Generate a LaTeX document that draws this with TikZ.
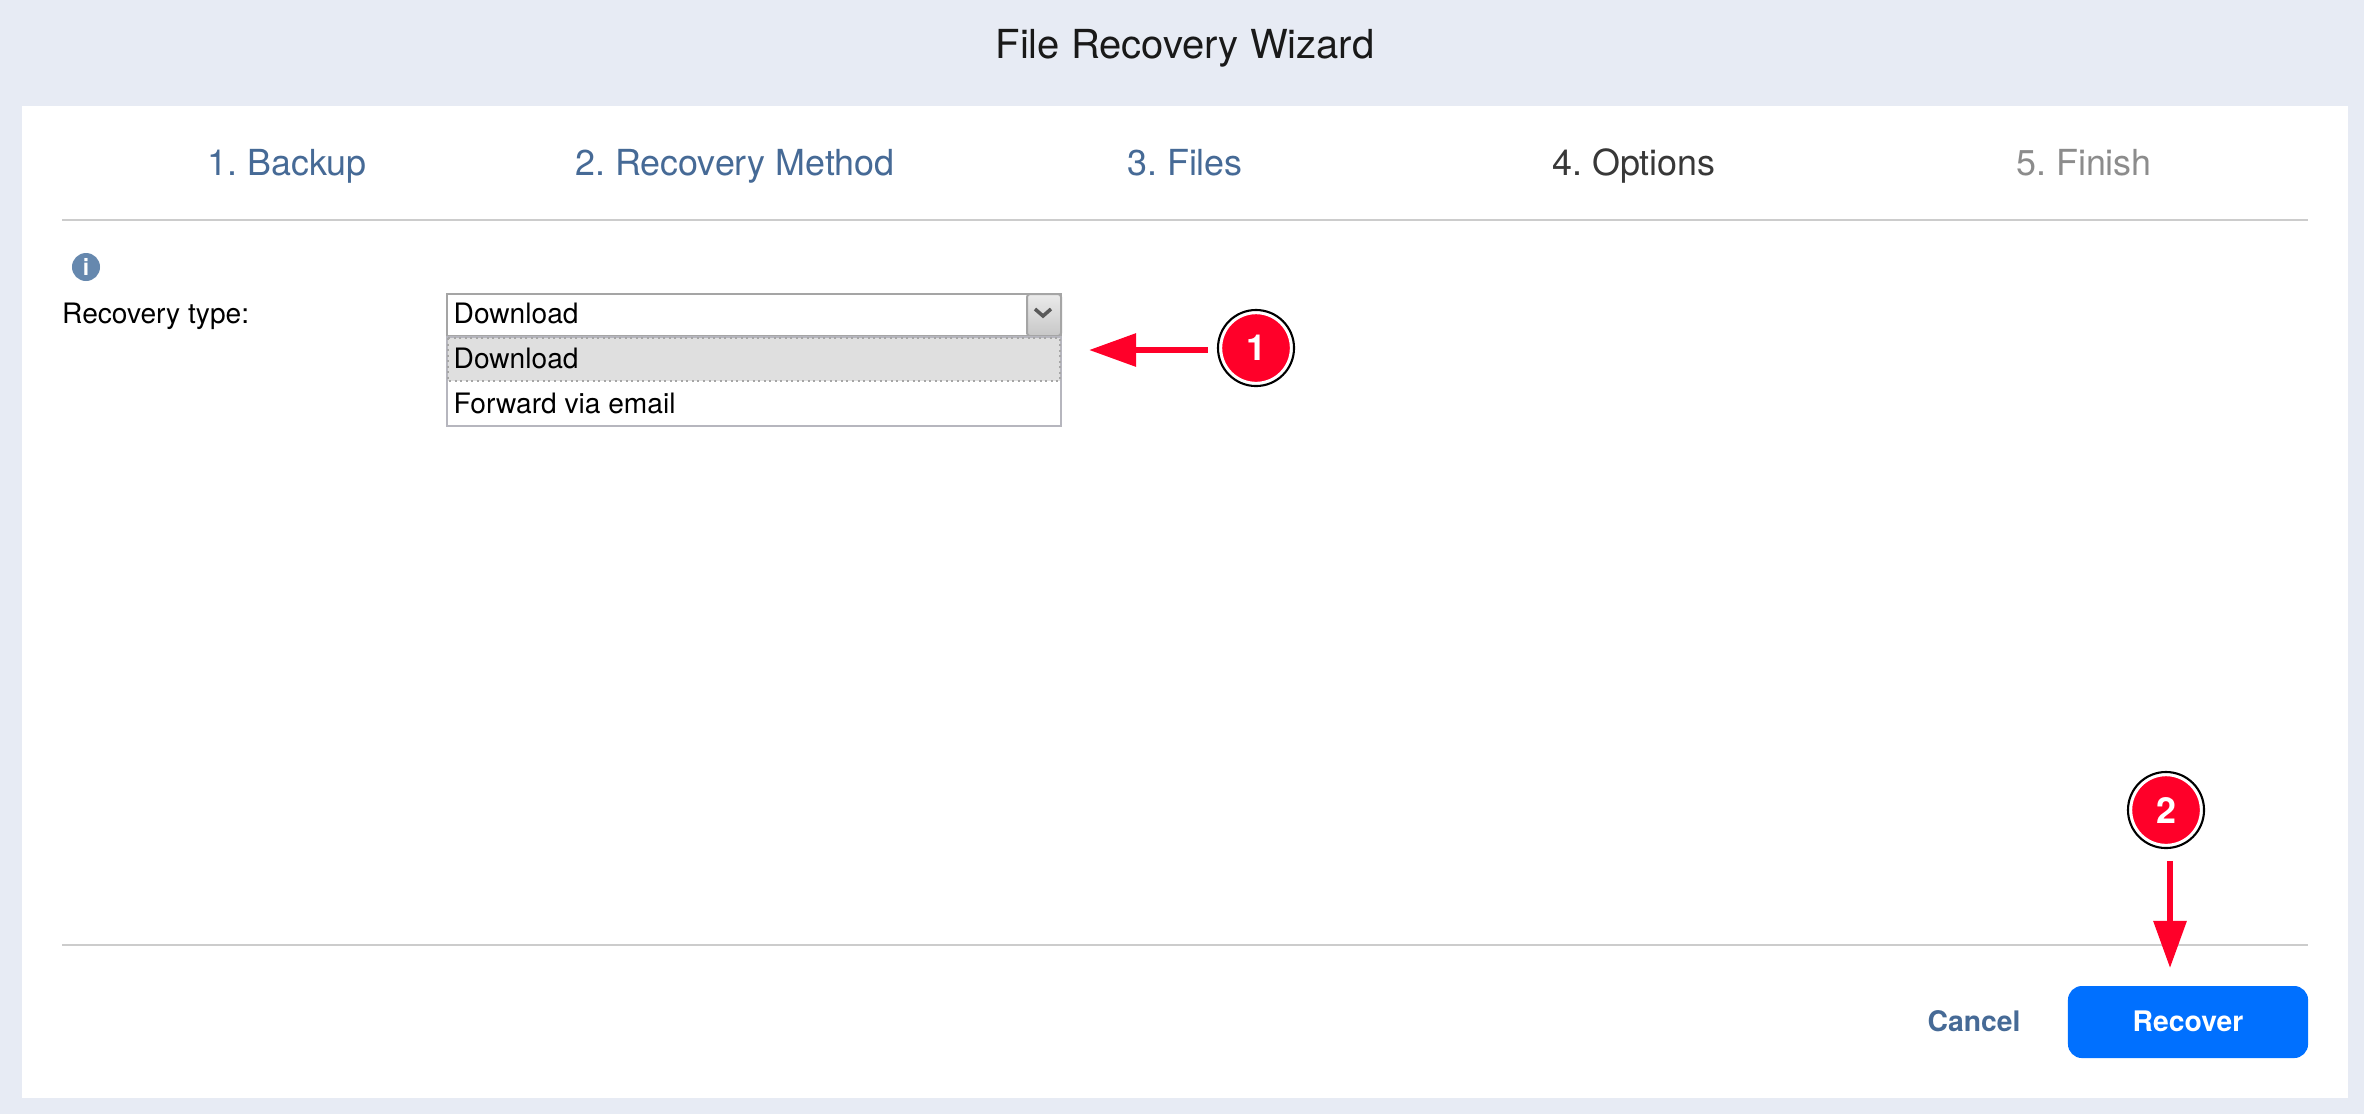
\documentclass[tikz,border=0pt]{standalone}
\usepackage{fontspec}
\usepackage{tikz}
\setmainfont{TeX Gyre Heros}
\usetikzlibrary{positioning, arrows.meta}

\definecolor{pagebg}{HTML}{E7EBF4}
\definecolor{stepblue}{HTML}{466A96}
\definecolor{rulegrey}{HTML}{CCCCCC}
\definecolor{boxgrey}{HTML}{A5A5A5}
\definecolor{listgrey}{HTML}{B6B6BE}
\definecolor{rowgrey}{HTML}{DFDFDF}
\definecolor{calloutred}{HTML}{FF0029}
\definecolor{buttonblue}{HTML}{0070FF}
\definecolor{infoblue}{HTML}{6688AE}

\tikzset{
    step_label/.style={inner sep=0, anchor=base, font=\fontsize{10.2}{12}\selectfont},
    form_label/.style={inner sep=0, anchor=base west, text=black, font=\fontsize{8}{10}\selectfont},
    action_label/.style={inner sep=0, anchor=base, font=\fontsize{8.05}{10}\selectfont\bfseries},
    badge/.style={circle, inner sep=0, minimum size=0.69cm, fill=calloutred, draw=white, line width=0.4pt,
        text=white, font=\fontsize{10.2}{12}\selectfont\bfseries},
    badge_ring/.style={circle, inner sep=0, minimum size=0.76cm, draw=black, line width=0.6pt},
    callout/.style={draw=calloutred, line width=0.06cm, -{Triangle[length=4.7mm, width=3.2mm, fill=calloutred]}},
    hairline/.style={draw=rulegrey, line width=0.02cm},
}

\begin{document}
\frenchspacing
\begin{tikzpicture}[x=0.01cm, y=-0.01cm]
            \useasboundingbox (0, 0) rectangle (2364, 1114);
            \fill[pagebg] (0, 0) rectangle (2364, 1114);
            \fill[white] (22, 106) rectangle (2348, 1098);

            \node[inner sep=0, anchor=base, text=black!90, font=\fontsize{11.37}{14}\selectfont] (title) at (1185, 58) {File Recovery Wizard};

            \node[step_label, text=stepblue] (step_backup) at (287, 175) {1. Backup};
            \node[step_label, text=stepblue] (step_method) at (735, 175) {2. Recovery Method};
            \node[step_label, text=stepblue] (step_files) at (1185, 175) {3. Files};
            \node[step_label, text=black!78] (step_options) at (1634, 175) {4. Options};
            \node[step_label, text=black!45] (step_finish) at (2084, 175) {5. Finish};

            \draw[hairline] (62, 220) -- (2308, 220);
            \draw[hairline] (62, 945) -- (2308, 945);

            \node[circle, inner sep=0, minimum size=0.28cm, fill=infoblue, text=white, font=\fontsize{6.5}{8}\selectfont\bfseries] (info) at (86, 267) {i};
            \node[form_label] (recovery_type) at (61.5, 323) {Recovery type:};

            % closed part of the drop-down
            \draw[draw=boxgrey, line width=0.02cm, fill=white] (447, 294) rectangle (1061, 336);
            \draw[draw=boxgrey, line width=0.02cm, rounded corners=0.03cm, top color=white!92!black, bottom color=black!22] (1027, 294) rectangle (1061, 336);
            \draw[draw=black!65, line width=0.035cm] (1035, 309) -- (1043, 316) -- (1051, 309);
            \node[form_label] (selected) at (453, 323) {Download};

            % opened list
            \draw[draw=listgrey, line width=0.02cm, fill=white] (447, 337) rectangle (1061, 426);
            \draw[draw=black!35, line width=0.02cm, densely dotted, fill=rowgrey] (448, 338) rectangle (1060, 381);
            \node[form_label] (opt_download) at (453, 368) {Download};
            \node[form_label] (opt_forward) at (453, 413) {Forward via email};

            \node[action_label, text=stepblue] (cancel) at (1974, 1031) {Cancel};
            \node[minimum width=2.4cm, minimum height=0.72cm, inner sep=0, rounded corners=0.14cm, fill=buttonblue] (recover_box) at (2188, 1022) {};
            \node[action_label, text=white] (recover) at (2188, 1031) {Recover};

            \node[badge_ring] (ring1) at (1256, 348) {};
            \node[badge] (badge1) at (1256, 348) {1};
            \node[badge_ring] (ring2) at (2166, 810) {};
            \node[badge] (badge2) at (2166, 810) {2};

            \coordinate (tip1) at (1089, 350);
            \coordinate (tip2) at (2170, 968);
            \draw[callout, shorten <=0.09cm] (ring1.west |- tip1) -- (tip1);
            \draw[callout, shorten <=0.12cm] (ring2.south -| tip2) -- (tip2);
        \end{tikzpicture}
\end{document}
